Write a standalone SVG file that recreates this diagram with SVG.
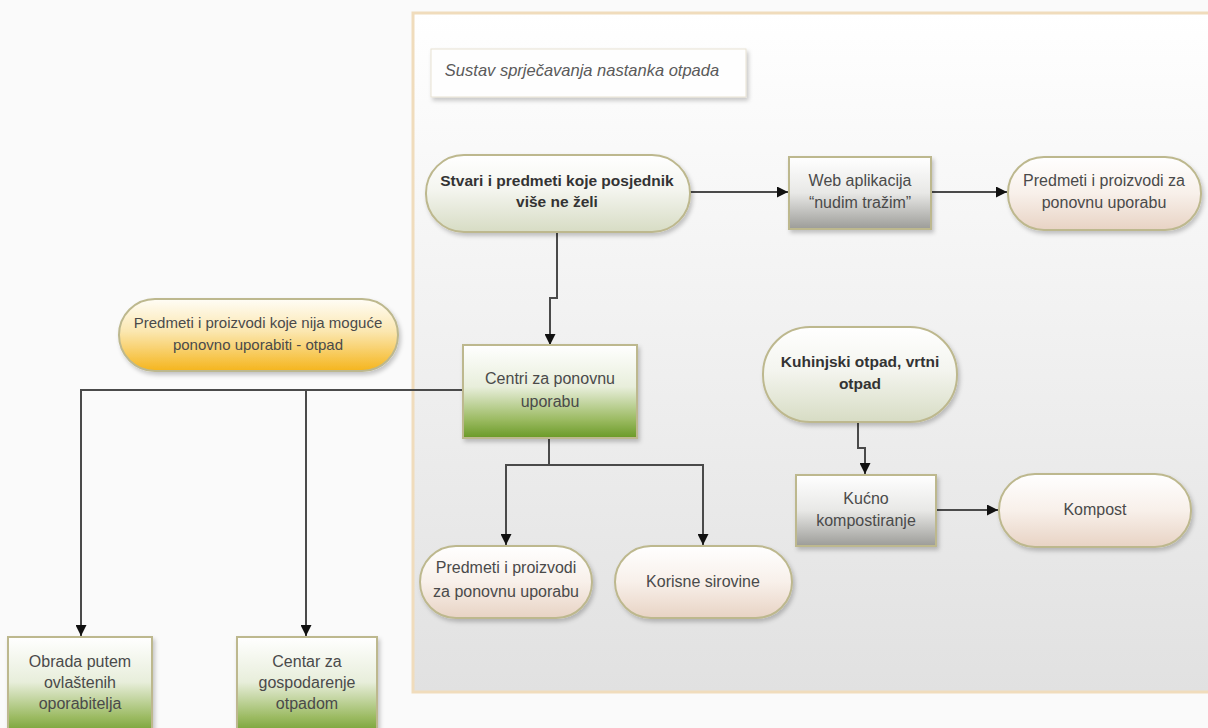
<svg xmlns="http://www.w3.org/2000/svg" width="1208" height="728" viewBox="0 0 1208 728">
<defs>
<style>
.t{font-family:"Liberation Sans",Arial,sans-serif;font-size:16px;fill:#4a4a4a;text-anchor:middle;dominant-baseline:middle}
.b{font-weight:bold;font-size:15.5px;fill:#333}
.s{font-size:15px}
.ttl{font-style:italic;font-size:16.5px;fill:#5a5a5a}
.n{stroke:#bdb88e;stroke-width:2;filter:url(#sh)}
.c{fill:none;stroke:#4a4a4a;stroke-width:2;marker-end:url(#ar)}
</style>
<linearGradient id="gPanel" x1="0" y1="0" x2="0" y2="1"><stop offset="0" stop-color="#ffffff"/><stop offset="1" stop-color="#e1e1e1"/></linearGradient>
<linearGradient id="gGreenPale" x1="0" y1="0" x2="0" y2="1"><stop offset="0" stop-color="#ffffff"/><stop offset="0.45" stop-color="#f4f5ef"/><stop offset="1" stop-color="#d7dcc4"/></linearGradient>
<linearGradient id="gGray" x1="0" y1="0" x2="0" y2="1"><stop offset="0" stop-color="#ffffff"/><stop offset="0.5" stop-color="#e8e8e6"/><stop offset="1" stop-color="#9c9c98"/></linearGradient>
<linearGradient id="gRose" x1="0" y1="0" x2="0" y2="1"><stop offset="0" stop-color="#ffffff"/><stop offset="0.5" stop-color="#f8f0ea"/><stop offset="1" stop-color="#e8d3c4"/></linearGradient>
<linearGradient id="gOrange" x1="0" y1="0" x2="0" y2="1"><stop offset="0" stop-color="#fffdf6"/><stop offset="0.45" stop-color="#fbe7b0"/><stop offset="1" stop-color="#f5b51c"/></linearGradient>
<linearGradient id="gGreen" x1="0" y1="0" x2="0" y2="1"><stop offset="0" stop-color="#ffffff"/><stop offset="0.45" stop-color="#e8eedb"/><stop offset="0.8" stop-color="#9cbb63"/><stop offset="1" stop-color="#6a9a26"/></linearGradient>
<filter id="sh" x="-10%" y="-10%" width="125%" height="130%"><feDropShadow dx="2" dy="3" stdDeviation="2" flood-color="#000" flood-opacity="0.22"/></filter>
<marker id="ar" viewBox="0 0 10 10" refX="10" refY="5" markerWidth="11" markerHeight="11" markerUnits="userSpaceOnUse" orient="auto"><path d="M0,0 L10,5 L0,10 z" fill="#111"/></marker>
</defs>
<rect x="0" y="0" width="1208" height="728" fill="#fafafa"/>
<g id="panel">
<rect x="413" y="13" width="805" height="679" fill="url(#gPanel)" stroke="#f0dcbc" stroke-width="3"/>
</g>
<g id="title">
<rect x="431" y="49" width="315" height="48" fill="#fefefe" stroke="#e8e2d2" stroke-width="1" filter="url(#sh)"/>
<text class="t ttl" x="582" y="72">Sustav sprječavanja nastanka otpada</text>
</g>
<g id="connectors">
<path class="c" d="M690 192 H788"/>
<path class="c" d="M931 192 H1007"/>
<path class="c" d="M557 232 V298 H550 V345"/>
<path class="c" d="M463 390 H81 V636"/>
<path class="c" d="M306 390 V636"/>
<path class="c" d="M549 438 V465 H506 V545"/>
<path class="c" d="M549 465 H703 V545"/>
<path class="c" d="M858 422 V448 H865 V474"/>
<path class="c" d="M936 510 H998"/>
</g>
<g id="n-stvari">
<rect class="n" x="426" y="155" width="264" height="77" rx="38" fill="url(#gGreenPale)"/>
<text class="t b" x="557" y="182">Stvari i predmeti koje posjednik</text>
<text class="t b" x="557" y="203">više ne želi</text>
</g>
<g id="n-web">
<rect class="n" x="789" y="157" width="142" height="72" fill="url(#gGray)"/>
<text class="t" x="860" y="182">Web aplikacija</text>
<text class="t" x="860" y="204">“nudim tražim”</text>
</g>
<g id="n-predmeti-top">
<rect class="n" x="1008" y="157" width="193" height="73" rx="36" fill="url(#gRose)"/>
<text class="t" x="1104" y="182">Predmeti i proizvodi za</text>
<text class="t" x="1104" y="204">ponovnu uporabu</text>
</g>
<g id="n-otpad">
<rect class="n" x="119" y="299" width="279" height="72" rx="36" fill="url(#gOrange)" stroke="#d9b56c"/>
<text class="t s" x="258" y="324">Predmeti i proizvodi koje nija moguće</text>
<text class="t s" x="258" y="346">ponovno uporabiti - otpad</text>
</g>
<g id="n-centri">
<rect class="n" x="463" y="345" width="174" height="93" fill="url(#gGreen)" stroke="#cfcdb4"/>
<text class="t" x="550" y="380">Centri za ponovnu</text>
<text class="t" x="550" y="403">uporabu</text>
</g>
<g id="n-obrada">
<rect class="n" x="8" y="637" width="144" height="100" fill="url(#gGreen)" stroke="#cfcdb4"/>
<text class="t" x="80" y="663">Obrada putem</text>
<text class="t" x="80" y="684">ovlaštenih</text>
<text class="t" x="80" y="705">oporabitelja</text>
</g>
<g id="n-centar">
<rect class="n" x="237" y="637" width="140" height="100" fill="url(#gGreen)" stroke="#cfcdb4"/>
<text class="t" x="307" y="663">Centar za</text>
<text class="t" x="307" y="684">gospodarenje</text>
<text class="t" x="307" y="705">otpadom</text>
</g>
<g id="n-predmeti-bottom">
<rect class="n" x="420" y="546" width="172" height="72" rx="36" fill="url(#gRose)"/>
<text class="t" x="506" y="569">Predmeti i proizvodi</text>
<text class="t" x="506" y="593">za ponovnu uporabu</text>
</g>
<g id="n-korisne">
<rect class="n" x="615" y="546" width="177" height="72" rx="36" fill="url(#gRose)"/>
<text class="t" x="703" y="583">Korisne sirovine</text>
</g>
<g id="n-kuhinjski">
<rect class="n" x="763" y="327" width="194" height="95" rx="47" fill="url(#gGreenPale)"/>
<text class="t b" x="860" y="363">Kuhinjski otpad, vrtni</text>
<text class="t b" x="860" y="385">otpad</text>
</g>
<g id="n-kucno">
<rect class="n" x="796" y="475" width="140" height="71" fill="url(#gGray)"/>
<text class="t" x="866" y="500">Kućno</text>
<text class="t" x="866" y="522">kompostiranje</text>
</g>
<g id="n-kompost">
<rect class="n" x="999" y="474" width="192" height="73" rx="36" fill="url(#gRose)"/>
<text class="t" x="1095" y="511">Kompost</text>
</g>
</svg>
